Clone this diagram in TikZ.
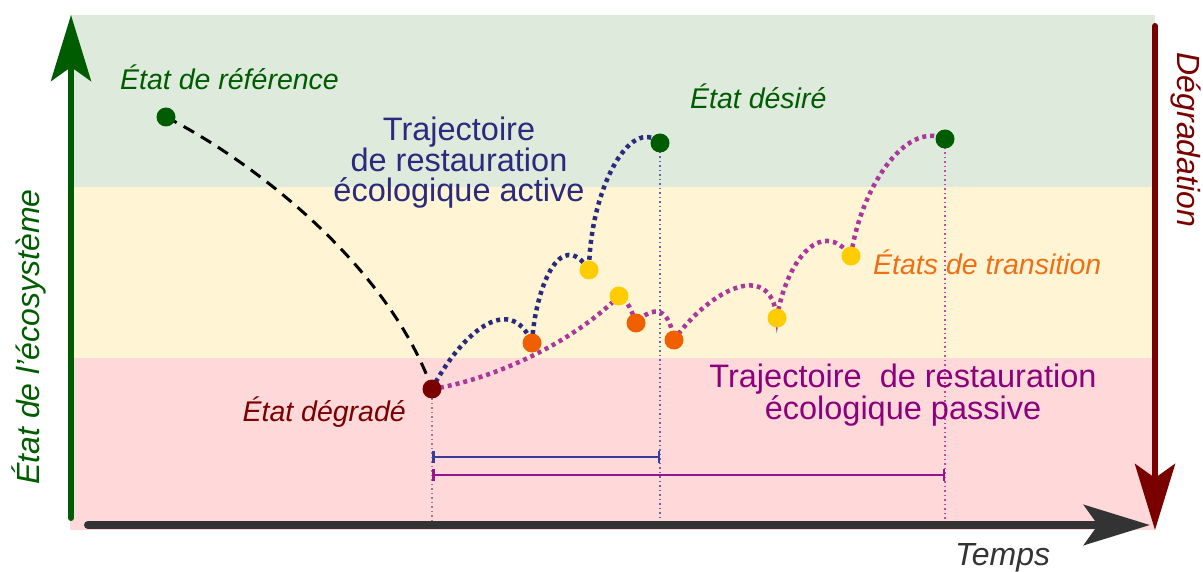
\documentclass[tikz,border=0pt]{standalone}
\usepackage{fontspec}
\setmainfont{Liberation Sans}
\usetikzlibrary{arrows.meta}

\definecolor{bandgreen}{RGB}{222,234,220}
\definecolor{bandyellow}{RGB}{255,245,212}
\definecolor{bandpink}{RGB}{255,217,217}
\definecolor{refgreen}{RGB}{0,92,0}
\definecolor{degred}{RGB}{122,0,0}
\definecolor{actblue}{RGB}{43,43,125}
\definecolor{passpurple}{RGB}{170,55,155}
\definecolor{passtext}{RGB}{140,0,125}
\definecolor{transorange}{RGB}{240,96,0}
\definecolor{translabel}{RGB}{240,110,20}
\definecolor{transyellow}{RGB}{255,204,0}
\definecolor{axisgray}{RGB}{51,51,51}

\begin{document}
\begin{tikzpicture}[x=1pt,y=-1pt,
    dot/.style={circle,inner sep=0,minimum size=19pt},
    actpath/.style={draw=actblue,line width=4.5pt,dash pattern=on 4pt off 4pt},
    passpath/.style={draw=passpurple,line width=4.5pt,dash pattern=on 4pt off 4pt},
    guide/.style={line width=1.5pt,dash pattern=on 1.5pt off 3pt},
    span/.style={line width=2.5pt,{Bar[width=12pt]}-{Bar[width=12pt]}},
    lab/.style={inner sep=0,font=\fontsize{28.5}{30}\selectfont\itshape},
    ttl/.style={inner sep=0,align=center,font=\fontsize{32.5}{30.5}\selectfont},
    axlab/.style={inner sep=0,font=\fontsize{32}{32}\selectfont\itshape},
    axarrow/.style={line cap=round,-{Stealth[length=66pt,width=40pt,inset=14pt]}}]

\useasboundingbox (0,0) rectangle (1203,572);

\foreach \ya/\yb/\c in {15/187/bandgreen,187/358/bandyellow,358/530/bandpink}
{
    \fill[\c] (70,\ya) rectangle (1155,\yb);
}

\coordinate (ref) at (166,117);
\coordinate (deg) at (432,389);
\coordinate (desA) at (660,143);
\coordinate (desP) at (945,139);
\coordinate (oA) at (532,343);
\coordinate (yA) at (589,270);
\coordinate (yP1) at (619,296);
\coordinate (oP1) at (636,323);
\coordinate (oP2) at (674,340);
\coordinate (yP2) at (777,318);
\coordinate (yP3) at (851,256);
\coordinate (base) at (0,522);
\coordinate (spanA) at (0,457);
\coordinate (spanP) at (0,475);

\draw[guide,draw={rgb,255:red,160;green,120;blue,150}] (deg) -- (deg |- base);
\draw[guide,draw={rgb,255:red,100;green,100;blue,175}] (desA) -- (desA |- base);
\draw[guide,draw={rgb,255:red,205;green,70;blue,165}] (desP) -- (desP |- base);

\draw[span,draw={rgb,255:red,60;green,60;blue,150}] (deg |- spanA) -- (desA |- spanA);
\draw[span,draw={rgb,255:red,150;green,20;blue,140}] (deg |- spanP) -- (desP |- spanP);

\draw[refgreen,line width=6pt,axarrow] (71,518) -- (71,15);
\draw[degred,line width=6pt,axarrow] (1155,26) -- (1155,530);
\draw[axisgray,line width=8pt,axarrow] (88,525) -- (1150,525);

\draw[line width=3pt,dash pattern=on 12pt off 8pt] (ref) .. controls (260,165) and (390,270) .. (deg);

\draw[actpath] (deg) .. controls (460,335) and (510,290) .. (oA)
    .. controls (535,290) and (560,225) .. (yA)
    .. controls (590,190) and (630,115) .. (desA);

\draw[passpath] (deg) .. controls (490,380) and (570,345) .. (yP1)
    .. controls (628,300) and (632,312) .. (oP1)
    .. controls (648,310) and (668,300) .. (oP2)
    .. controls (705,295) and (770,255) .. (yP2)
    .. controls (785,265) and (820,215) .. (yP3)
    .. controls (860,190) and (905,120) .. (desP);

\foreach \p/\c in {ref/refgreen,desA/refgreen,desP/refgreen,deg/degred,oA/transorange,oP1/transorange,oP2/transorange,yA/transyellow,yP1/transyellow,yP2/transyellow,yP3/transyellow}
{
    \node[dot,fill=\c] (dot-\p) at (\p) {};
}

\node[lab,text=refgreen,anchor=base west] (reflab) at (120,90) {État de référence};
\node[lab,text=refgreen,anchor=base west] (deslab) at (690,109) {État désiré};
\node[lab,text=translabel,anchor=base west] (translab) at (873,275) {États de transition};
\node[lab,text=degred,anchor=base east] (deglab) at (406,421) {État dégradé};
\node[ttl,text=actblue] (actlab) at (459,163) {Trajectoire\\de restauration\\écologique active};
\node[ttl,text=passtext] (passlab) at (903,395) {Trajectoire~~de restauration\\écologique passive};
\node[axlab,text=axisgray,anchor=base west] (timelab) at (955,565) {Temps};
\node[axlab,text=refgreen,rotate=90] (statelab) at (29,337) {État de l'écosystème};
\node[axlab,text=degred,rotate=-90] (degrlab) at (1186,140) {Dégradation};

\end{tikzpicture}
\end{document}
